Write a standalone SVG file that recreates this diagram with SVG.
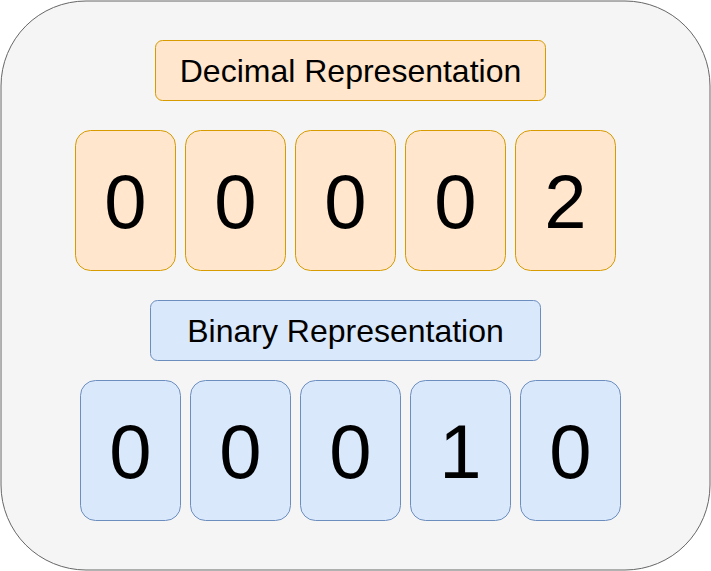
<svg xmlns="http://www.w3.org/2000/svg" width="711" height="571" viewBox="0 0 711 571">
<style>
.outer{fill:#f5f5f5;stroke:#666666;stroke-width:1}
.dec{fill:#ffe6cc;stroke:#d79b00;stroke-width:1}
.bin{fill:#dae8fc;stroke:#6c8ebf;stroke-width:1}
.lbl{font-family:"Liberation Sans",Arial,sans-serif;font-size:32px;fill:#000;text-anchor:middle}
.dig{font-family:"Liberation Sans",Arial,sans-serif;font-size:76px;fill:#000;text-anchor:middle}
</style>
<rect class="outer" x="1" y="1" width="709" height="569" rx="85" ry="85"/>
<g id="decimal-label"><rect class="dec" x="155.5" y="40.5" width="390" height="60" rx="7"/><text class="lbl" x="350.5" y="82">Decimal Representation</text></g>
<g id="d1"><rect class="dec" x="75.5" y="130.5" width="100" height="140" rx="15"/><text class="dig" x="125.5" y="228">0</text></g>
<g id="d2"><rect class="dec" x="185.5" y="130.5" width="100" height="140" rx="15"/><text class="dig" x="235.5" y="228">0</text></g>
<g id="d3"><rect class="dec" x="295.5" y="130.5" width="100" height="140" rx="15"/><text class="dig" x="345.5" y="228">0</text></g>
<g id="d4"><rect class="dec" x="405.5" y="130.5" width="100" height="140" rx="15"/><text class="dig" x="455.5" y="228">0</text></g>
<g id="d5"><rect class="dec" x="515.5" y="130.5" width="100" height="140" rx="15"/><text class="dig" x="565.5" y="228">2</text></g>
<g id="binary-label"><rect class="bin" x="150.5" y="300.5" width="390" height="60" rx="7"/><text class="lbl" x="345.5" y="342">Binary Representation</text></g>
<g id="b1"><rect class="bin" x="80.5" y="380.5" width="100" height="140" rx="15"/><text class="dig" x="130.5" y="478">0</text></g>
<g id="b2"><rect class="bin" x="190.5" y="380.5" width="100" height="140" rx="15"/><text class="dig" x="240.5" y="478">0</text></g>
<g id="b3"><rect class="bin" x="300.5" y="380.5" width="100" height="140" rx="15"/><text class="dig" x="350.5" y="478">0</text></g>
<g id="b4"><rect class="bin" x="410.5" y="380.5" width="100" height="140" rx="15"/><text class="dig" x="460.5" y="478">1</text></g>
<g id="b5"><rect class="bin" x="520.5" y="380.5" width="100" height="140" rx="15"/><text class="dig" x="570.5" y="478">0</text></g>
<g id="connectors"></g>
</svg>
